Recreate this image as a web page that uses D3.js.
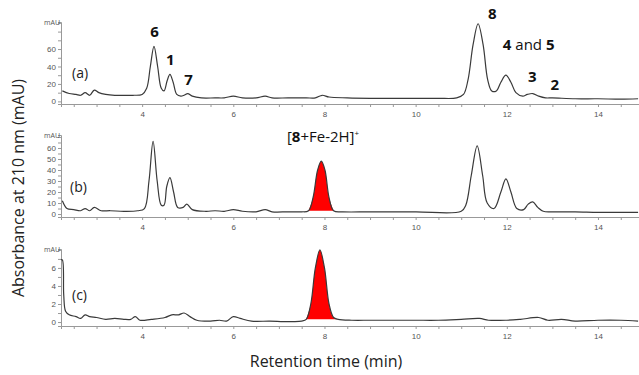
<!DOCTYPE html>
<html>
<head>
<meta charset="utf-8">
<script src="https://cdn.jsdelivr.net/npm/d3@7"></script>
<style>
  body { margin: 0; background: #fff; }
  svg { display: block; font-family: "Open Sans", "DejaVu Sans", sans-serif; }
</style>
</head>
<body>
<svg id="chart" width="639" height="375"></svg>
<script>
// retention time (min) / absorbance (mAU)
const timesA = [2.25,2.4,2.55,2.65,2.75,2.85,2.95,3.05,3.2,3.4,3.6,3.8,4.0,4.1,4.18,4.26,4.34,4.42,4.48,4.55,4.61,4.68,4.76,4.85,4.92,5.0,5.1,5.3,5.6,5.8,6.0,6.2,6.5,6.7,6.85,7.2,7.6,7.8,7.95,8.1,8.5,9.0,9.5,10.0,10.5,10.9,11.05,11.15,11.26,11.37,11.48,11.58,11.67,11.77,11.87,11.98,12.09,12.2,12.35,12.45,12.57,12.7,12.85,13.0,13.5,14.0,14.5,14.88];
const valuesA = [12,9,8,7,10,7,13,10,8,7,7,7,8,15,40,63,40,15,12,24,31,22,8,6,7,9,6,4,4,4,6,4,4,6,4,4,4,4,7,5,4,3.5,3.5,3.5,3.5,4,8,25,65,89,65,25,12,12,22,30,22,10,6,8,9,6,4,4,3,3,2.5,3];

const timesB = [2.25,2.35,2.5,2.65,2.75,2.85,2.95,3.1,3.3,3.6,3.9,4.05,4.15,4.24,4.33,4.42,4.48,4.54,4.61,4.69,4.78,4.9,4.98,5.1,5.4,5.6,5.8,6.0,6.2,6.5,6.7,6.85,7.2,7.5,7.65,7.75,7.85,7.93,8.01,8.1,8.2,8.4,9,10,11,11.1,11.22,11.35,11.47,11.57,11.72,11.87,11.98,12.09,12.22,12.37,12.47,12.57,12.68,12.8,13.0,13.5,14.0,14.5,14.88];
const valuesB = [12,5,4,3,5,3,6,3,3,2.5,3,5,30,66,30,8,8,25,33,20,6,6,9,4,2.5,3,2.5,4,2.5,2,4,2,2,2,3,15,40,48,40,15,3,2,2,2,2.5,8,35,62,35,10,5,20,32,20,5,4,9,11,6,2.5,2,2,1.5,1.5,1.5];

const timesC = [2.22,2.25,2.28,2.32,2.4,2.55,2.65,2.75,2.85,3.0,3.2,3.4,3.6,3.75,3.85,3.95,4.2,4.5,4.65,4.8,4.92,5.05,5.2,5.5,5.7,5.85,6.0,6.15,6.4,6.8,7.1,7.3,7.5,7.6,7.7,7.8,7.9,8.0,8.1,8.2,8.3,8.6,9,9.5,10,10.5,11,11.4,11.6,12,12.3,12.7,12.9,13.2,13.5,14,14.5,14.88];
const valuesC = [6.9,6.9,3,1.2,0.8,0.6,0.4,0.8,0.6,0.5,0.3,0.4,0.3,0.3,0.6,0.2,0.3,0.5,0.8,0.8,1.0,0.6,0.2,0.1,0.2,0.1,0.6,0.4,0.1,0.1,0.05,0.05,0.1,0.3,2,6,8,6,2,0.5,0.3,0.2,0.2,0.2,0.2,0.2,0.3,0.4,0.2,0.2,0.3,0.5,0.2,0.3,0.1,0.2,0.2,0.1];

// shaded [8+Fe-2H]+ peak window (min)
const fillWindowB = [7.62, 8.25];
const fillWindowC = [7.55, 8.35];

const xTicks = [4, 6, 8, 10, 12, 14];
const yTicksA = [0, 20, 40, 60];
const yTicksB = [0, 10, 20, 30, 40, 50, 60];
const yTicksC = [0, 2, 4, 6];

const peakLabels = [
  {t: 4.27, v: 74, text: "6"},
  {t: 4.62, v: 42, text: "1"},
  {t: 5.02, v: 19, text: "7"},
  {t: 11.68, v: 94, text: "8"},
  {t: 12.48, v: 59, text: "4 and 5"},
  {t: 12.56, v: 22, text: "3"},
  {t: 13.05, v: 13, text: "2"}
];

const svg = d3.select("#chart");
const x = d3.scaleLinear().domain([2.22, 14.9]).range([61, 639]);

const panels = [
  {times: timesA, values: valuesA, ticks: yTicksA, minor: 10, domain: [-3, 91], range: [104, 22], name: "(a)", ny: 78, nx: 72},
  {times: timesB, values: valuesB, ticks: yTicksB, minor: 5, domain: [-2.7, 71.8], range: [217, 135], name: "(b)", ny: 192, nx: 70, fill: fillWindowB},
  {times: timesC, values: valuesC, ticks: yTicksC, minor: 1, domain: [-0.44, 8.1], range: [326, 249], name: "(c)", ny: 300, nx: 72, fill: fillWindowC}
];

panels.forEach(p => {
  const y = d3.scaleLinear().domain(p.domain).range(p.range);
  const g = svg.append("g");
  const data = p.times.map((t, i) => ({t: t, v: p.values[i]}));

  // x axis
  const xAxis = g.append("g")
    .attr("transform", "translate(0," + p.range[0] + ")")
    .call(d3.axisBottom(x).tickValues(d3.range(2.5, 14.9, 0.5)).tickSize(3).tickFormat(d => xTicks.includes(d) ? d : ""));
  xAxis.select(".domain").attr("stroke", "#999");
  xAxis.selectAll(".tick line").attr("stroke", "#999");
  xAxis.selectAll("text").attr("fill", "#555").attr("font-size", 8).attr("dy", "0.9em");

  // y axis
  const minorTicks = d3.range(0, p.domain[1], p.minor);
  const yAxis = g.append("g")
    .attr("transform", "translate(61,0)")
    .call(d3.axisLeft(y).tickValues(minorTicks).tickSize(3).tickPadding(2).tickFormat(d => p.ticks.includes(d) ? d : ""));
  yAxis.select(".domain").attr("stroke", "#999");
  yAxis.selectAll(".tick line").attr("stroke", "#999");
  yAxis.selectAll("text").attr("fill", "#555").attr("font-size", 8);

  g.append("text")
    .attr("x", 60).attr("y", p.range[1] + 3)
    .attr("text-anchor", "end")
    .attr("font-size", 7).attr("fill", "#555")
    .text("mAU");

  // red shaded peak
  if (p.fill) {
    const inWin = data.filter(d => d.t >= p.fill[0] && d.t <= p.fill[1]);
    const base = d3.scaleLinear()
      .domain([inWin[0].t, inWin[inWin.length - 1].t])
      .range([inWin[0].v, inWin[inWin.length - 1].v]);
    g.append("path")
      .datum(inWin)
      .attr("fill", "#ff0000")
      .attr("d", d3.area()
        .x(d => x(d.t))
        .y0(d => y(base(d.t)))
        .y1(d => y(d.v))
        .curve(d3.curveCatmullRom));
  }

  g.append("path")
    .datum(data)
    .attr("fill", "none")
    .attr("stroke", "#3a3a3a")
    .attr("stroke-width", 1.2)
    .attr("d", d3.line().x(d => x(d.t)).y(d => y(d.v)).curve(d3.curveCatmullRom));

  g.append("text")
    .attr("x", p.nx).attr("y", p.ny)
    .attr("font-size", 14).attr("fill", "#222")
    .text(p.name);

  if (p.name === "(a)") {
    g.selectAll(".peak")
      .data(peakLabels)
      .enter()
      .append("text")
      .attr("x", d => x(d.t))
      .attr("y", d => y(d.v))
      .attr("text-anchor", "middle")
      .attr("font-size", 15)
      .attr("fill", "#111")
      .each(function(d) {
        const el = d3.select(this);
        if (d.text === "4 and 5") {
          el.append("tspan").attr("font-weight", "bold").text("4");
          el.append("tspan").text(" and ");
          el.append("tspan").attr("font-weight", "bold").text("5");
        } else {
          el.attr("font-weight", "bold").text(d.text);
        }
      });
  }
});

// complex label above panel (b)
const cl = svg.append("text")
  .attr("x", 323).attr("y", 142)
  .attr("text-anchor", "middle")
  .attr("font-size", 15).attr("fill", "#111");
cl.append("tspan").text("[");
cl.append("tspan").attr("font-weight", "bold").text("8");
cl.append("tspan").text("+Fe-2H]");
cl.append("tspan").attr("font-size", 8).attr("dy", -6).text("+");

// axis titles
svg.append("text")
  .attr("x", 326).attr("y", 367)
  .attr("text-anchor", "middle")
  .attr("font-size", 16).attr("fill", "#222")
  .text("Retention time (min)");

svg.append("text")
  .attr("transform", "translate(24,188) rotate(-90)")
  .attr("text-anchor", "middle")
  .attr("font-size", 16).attr("fill", "#222")
  .text("Absorbance at 210 nm (mAU)");
</script>
</body>
</html>
